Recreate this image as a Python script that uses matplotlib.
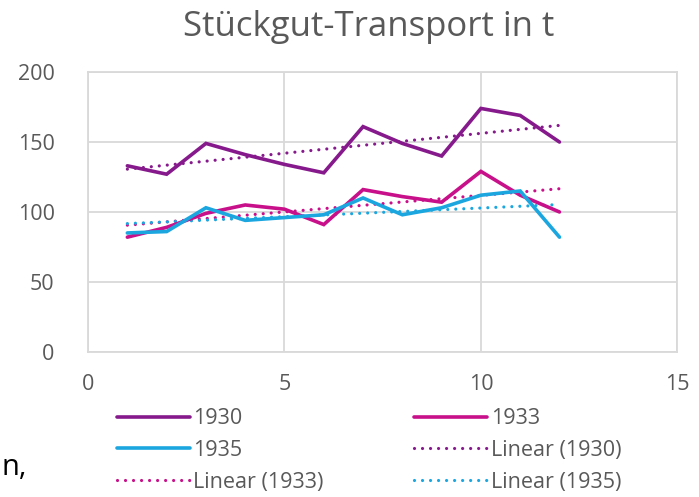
import numpy as np
import matplotlib.pyplot as plt

# ------------------------------------------------------------
# Daten
# ------------------------------------------------------------
monate = [1, 2, 3, 4, 5, 6, 7, 8, 9, 10, 11, 12]
t_1930 = [133, 127, 149, 141, 134, 128, 161, 149, 140, 174, 169, 150]
t_1933 = [82, 89, 99, 105, 102, 91, 116, 111, 107, 129, 112, 100]
t_1935 = [85, 86, 103, 94, 96, 98, 110, 98, 103, 112, 115, 82]

farben = {"1930": "#861A8C", "1933": "#C8108A", "1935": "#1BA6E0"}
serien = {"1930": t_1930, "1933": t_1933, "1935": t_1935}

grau = "#595959"
plt.rcParams['font.family'] = ['Open Sans', 'DejaVu Sans']

fig = plt.figure(figsize=(6.99, 4.97), dpi=100)
ax = fig.add_axes([0.126, 0.292, 0.843, 0.563])

x = np.array(monate)
handles = {}
for name, werte in serien.items():
    ln, = ax.plot(x, werte, color=farben[name], lw=2.6, solid_capstyle='round',
                  solid_joinstyle='miter', zorder=3)
    handles[name] = ln

# lineare Trendlinien
for name, werte in serien.items():
    m, b = np.polyfit(x, werte, 1)
    ln, = ax.plot(x, m * x + b, color=farben[name], lw=2.3,
                  linestyle=(0, (0.01, 2.5)), dash_capstyle='round', zorder=2)
    handles["Linear (" + name + ")"] = ln

ax.set_xlim(0, 15)
ax.set_ylim(0, 200)
ax.set_xticks([0, 5, 10, 15])
ax.set_yticks([0, 50, 100, 150, 200])
ax.grid(True, color="#D9D9D9", lw=1.3)
ax.set_axisbelow(True)
for s in ax.spines.values():
    s.set_color("#D9D9D9")
    s.set_linewidth(1.3)
ax.tick_params(length=0, labelsize=15.5, labelcolor=grau)
ax.tick_params(axis='x', pad=16)
ax.tick_params(axis='y', pad=24)

fig.text(0.527, 0.945, "Stückgut-Transport in t", ha="center", va="center",
         fontsize=25, color=grau)

# Legende: zeilenweise 1930, 1933 / 1935, Linear (1930) / Linear (1933), Linear (1935)
reihenfolge = ["1930", "1935", "Linear (1933)", "1933", "Linear (1930)", "Linear (1935)"]
leg = fig.legend([handles[k] for k in reihenfolge], reihenfolge, ncol=2,
                 loc="upper left", bbox_to_anchor=(0.155, 0.196), frameon=False,
                 fontsize=15.5, handlelength=3.4, handletextpad=0.15,
                 columnspacing=4.2, labelspacing=0.5, borderaxespad=0)
for t in leg.get_texts():
    t.set_color(grau)

fig.text(0.002, 0.06, "n,", fontsize=21, color="black", ha="left", va="center")

fig.savefig("out.png", dpi=100)
